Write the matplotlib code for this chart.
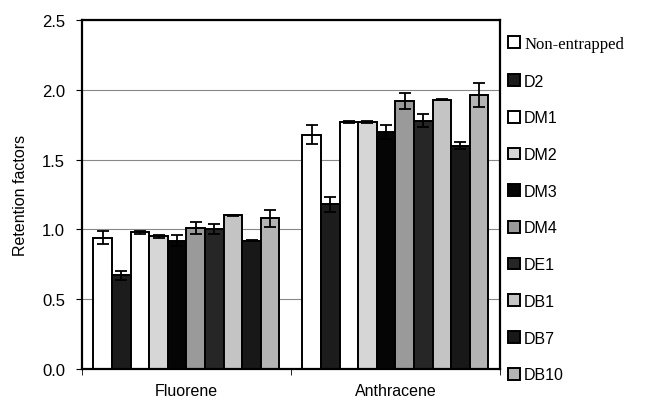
import matplotlib.pyplot as plt
import numpy as np

plt.rcParams['font.family'] = ['Liberation Sans', 'DejaVu Sans']

compounds = ["Fluorene", "Anthracene"]
series = ["Non-entrapped", "D2", "DM1", "DM2", "DM3", "DM4", "DE1", "DB1", "DB7", "DB10"]

# retention factors, one list per series: [Fluorene, Anthracene]
non_entrapped = [0.94, 1.68]
d2 = [0.67, 1.18]
dm1 = [0.98, 1.77]
dm2 = [0.95, 1.77]
dm3 = [0.92, 1.70]
dm4 = [1.01, 1.92]
de1 = [1.00, 1.78]
db1 = [1.10, 1.93]
db7 = [0.92, 1.60]
db10 = [1.08, 1.96]

non_entrapped_err = [0.047, 0.065]
d2_err = [0.035, 0.055]
dm1_err = [0.01, 0.01]
dm2_err = [0.01, 0.01]
dm3_err = [0.04, 0.05]
dm4_err = [0.04, 0.057]
de1_err = [0.035, 0.048]
db1_err = [0.005, 0.005]
db7_err = [0.005, 0.024]
db10_err = [0.06, 0.086]

values = [non_entrapped, d2, dm1, dm2, dm3, dm4, de1, db1, db7, db10]
errors = [non_entrapped_err, d2_err, dm1_err, dm2_err, dm3_err, dm4_err,
          de1_err, db1_err, db7_err, db10_err]
colors = ["white", "#1c1c1c", "white", "#d6d6d6", "#050505",
          "#9a9a9a", "#262626", "#c4c4c4", "#181818", "#b4b4b4"]

fig = plt.figure(figsize=(6.45, 4.06), dpi=100)
ax = fig.add_axes([0.127, 0.089, 0.648, 0.859])

x = np.arange(len(compounds))
n = len(series)
width = 0.89 / n
for i, (vals, errs, col, name) in enumerate(zip(values, errors, colors, series)):
    pos = x + (i - (n - 1) / 2) * width
    ax.bar(pos, vals, width, color=col, edgecolor="black", linewidth=1.4,
           label=name, zorder=2)
    ax.errorbar(pos, vals, yerr=errs, fmt="none", ecolor="black",
                elinewidth=1.3, capsize=4, capthick=1.3, zorder=3)

ax.set_xlim(-0.5, 1.5)
ax.set_ylim(0, 2.5)
ax.set_yticks(np.arange(0, 2.51, 0.5))
ax.set_yticklabels(["0.0", "0.5", "1.0", "1.5", "2.0", "2.5"])
ax.yaxis.grid(True, color="#888888", linewidth=0.8, zorder=0)
ax.set_axisbelow(True)

ax.set_xticks(x)
ax.set_xticklabels(compounds)
ax.tick_params(axis="x", length=0, pad=10, labelsize=11.5)
ax.set_xticks([-0.5, 0.5, 1.5], minor=True)
ax.tick_params(axis="x", which="minor", length=4, direction="out")
ax.tick_params(axis="y", length=4, direction="out", labelsize=12, pad=8)
for s in ax.spines.values():
    s.set_linewidth(1.6)

ax.set_ylabel("Retention factors", fontsize=11.5)
ax.yaxis.set_label_coords(-0.13, 0.5)

leg = ax.legend(loc="upper left", bbox_to_anchor=(1.02, 0.955), frameon=False,
                fontsize=11.5, labelspacing=1.36, handlelength=0.75,
                handleheight=0.75, handletextpad=0.25, borderaxespad=0,
                borderpad=0)
leg.get_texts()[0].set_fontfamily("Liberation Serif")
leg.get_texts()[0].set_fontsize(12)

plt.savefig("out.png", dpi=100)
